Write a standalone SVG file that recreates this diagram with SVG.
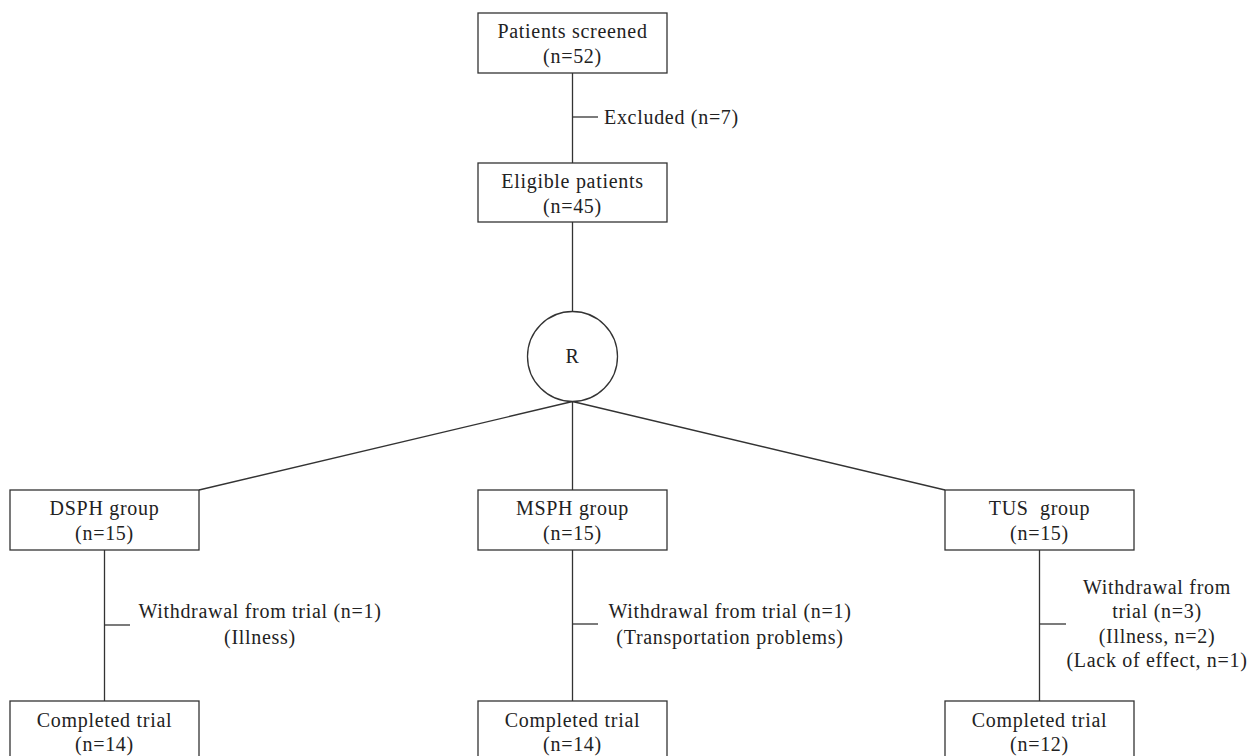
<svg xmlns="http://www.w3.org/2000/svg" width="1255" height="756" viewBox="0 0 1255 756">
<style>
.box{fill:#fff;stroke:#333;stroke-width:1.3}
.ln{stroke:#333;stroke-width:1.3;fill:none}
text{font-family:"Liberation Serif","Times New Roman",serif;font-size:20px;letter-spacing:0.7px;fill:#222}
.c{text-anchor:middle}
</style>
<rect width="1255" height="756" fill="#fff"/>
<g id="connectors">
<line class="ln" x1="572.5" y1="73" x2="572.5" y2="163"/>
<line class="ln" x1="572.5" y1="117" x2="598" y2="117"/>
<line class="ln" x1="572.5" y1="222" x2="572.5" y2="311.5"/>
<line class="ln" x1="572.5" y1="401.5" x2="199" y2="490"/>
<line class="ln" x1="572.5" y1="401.5" x2="572.5" y2="490"/>
<line class="ln" x1="572.5" y1="401.5" x2="945" y2="490"/>
<line class="ln" x1="104.5" y1="550" x2="104.5" y2="701"/>
<line class="ln" x1="104.5" y1="625" x2="130" y2="625"/>
<line class="ln" x1="572.5" y1="550" x2="572.5" y2="701"/>
<line class="ln" x1="572.5" y1="624" x2="598" y2="624"/>
<line class="ln" x1="1039.5" y1="550" x2="1039.5" y2="701"/>
<line class="ln" x1="1039.5" y1="624" x2="1066" y2="624"/>
</g>
<g id="lbl-excluded"><text x="604" y="124">Excluded (n=7)</text></g>
<g id="lbl-w1"><text class="c" x="260" y="618">Withdrawal from trial (n=1)</text><text class="c" x="260" y="644">(Illness)</text></g>
<g id="lbl-w2"><text class="c" x="730" y="618">Withdrawal from trial (n=1)</text><text class="c" x="730" y="644">(Transportation problems)</text></g>
<g id="lbl-w3"><text class="c" x="1157" y="594">Withdrawal from</text><text class="c" x="1157" y="618">trial (n=3)</text><text class="c" x="1157" y="643">(Illness, n=2)</text><text class="c" x="1157" y="667">(Lack of effect, n=1)</text></g>
<g id="screened"><rect class="box" x="478" y="13" width="189" height="60"/><text class="c" x="572.5" y="38">Patients screened</text><text class="c" x="572.5" y="63">(n=52)</text></g>
<g id="eligible"><rect class="box" x="478" y="163" width="189" height="59"/><text class="c" x="572.5" y="188">Eligible patients</text><text class="c" x="572.5" y="213">(n=45)</text></g>
<g id="random"><circle class="box" cx="572.5" cy="356.5" r="45"/><text class="c" x="572.5" y="363">R</text></g>
<g id="dsph"><rect class="box" x="10" y="490" width="189" height="60"/><text class="c" x="104.5" y="515">DSPH group</text><text class="c" x="104.5" y="540">(n=15)</text></g>
<g id="msph"><rect class="box" x="478" y="490" width="189" height="60"/><text class="c" x="572.5" y="515">MSPH group</text><text class="c" x="572.5" y="540">(n=15)</text></g>
<g id="tus"><rect class="box" x="945" y="490" width="189" height="60"/><text class="c" x="1039.5" y="515" xml:space="preserve">TUS  group</text><text class="c" x="1039.5" y="540">(n=15)</text></g>
<g id="done1"><rect class="box" x="10" y="701" width="189" height="70"/><text class="c" x="104.5" y="727">Completed trial</text><text class="c" x="104.5" y="751">(n=14)</text></g>
<g id="done2"><rect class="box" x="478" y="701" width="189" height="70"/><text class="c" x="572.5" y="727">Completed trial</text><text class="c" x="572.5" y="751">(n=14)</text></g>
<g id="done3"><rect class="box" x="945" y="701" width="189" height="70"/><text class="c" x="1039.5" y="727">Completed trial</text><text class="c" x="1039.5" y="751">(n=12)</text></g>
</svg>
